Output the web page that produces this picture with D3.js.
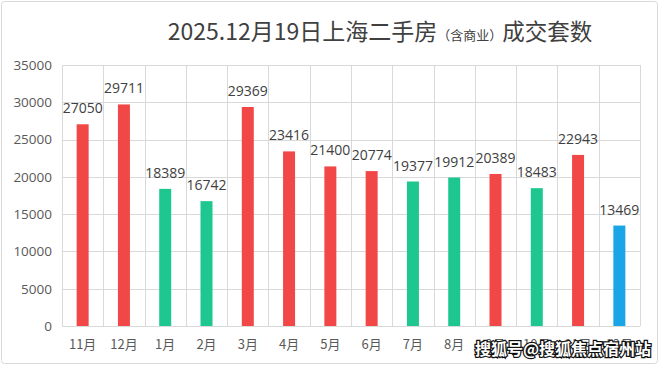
<!DOCTYPE html>
<html><head><meta charset="utf-8">
<script src="https://cdn.jsdelivr.net/npm/d3@7"></script>
<style>body{margin:0;background:#fff}svg{display:block}</style>
</head><body><svg id="c" width="660" height="366"></svg>
<script>
const categories = ["11月","12月","1月","2月","3月","4月","5月","6月","7月","8月","9月","10月","11月","12月"];
const values = [27050,29711,18389,16742,29369,23416,21400,20774,19377,19912,20389,18483,22943,13469];
const colorKeys = ["r","r","g","g","r","r","r","r","g","g","r","g","r","b"];
const yTicks = [0,5000,10000,15000,20000,25000,30000,35000];
const palette = {r:"#f24747", g:"#1dc78f", b:"#1aa6e6"};

const svg = d3.select("#c");
const W=660,H=366;
const m={l:62,r:20,t:65,b:40};
svg.append("rect").attr("x",1.5).attr("y",1.5).attr("width",W-4).attr("height",H-4).attr("rx",3)
  .attr("fill","#fff").attr("stroke","#d9d9d9");

const x=d3.scaleBand().domain(d3.range(categories.length)).range([m.l,W-m.r]).padding(0);
const y=d3.scaleLinear().domain([0,35000]).range([H-m.b,m.t]);

// grid
const g=svg.append("g");
g.selectAll(".h").data(yTicks).join("line").attr("x1",m.l).attr("x2",W-m.r)
 .attr("y1",d=>Math.round(y(d))+0.5).attr("y2",d=>Math.round(y(d))+0.5).attr("stroke","#d9d9d9");
g.selectAll(".v").data(d3.range(categories.length+1)).join("line")
 .attr("x1",i=>Math.round(m.l+i*x.bandwidth())+0.5).attr("x2",i=>Math.round(m.l+i*x.bandwidth())+0.5)
 .attr("y1",y(35000)).attr("y2",y(0)).attr("stroke","#d9d9d9");

// y axis labels
const yAxis=d3.axisLeft(y).tickValues(yTicks).tickFormat(d3.format("d")).tickSize(0).tickPadding(10);
const ya=svg.append("g").attr("transform",`translate(${m.l},0)`).call(yAxis);
ya.select(".domain").remove();
ya.selectAll("text").attr("font-family","Open Sans, Noto Sans").attr("font-size",13.5).attr("fill","#595959");

// x axis labels
const xAxis=d3.axisBottom(x).tickFormat(i=>categories[i]).tickSize(0).tickPadding(14);
const xa=svg.append("g").attr("transform",`translate(0,${H-m.b})`).call(xAxis);
xa.select(".domain").remove();
xa.selectAll("text").attr("font-family","Noto Sans CJK SC").attr("font-size",13).attr("fill","#595959");

// bars
const bw=12;
svg.selectAll(".bar").data(values).join("rect")
 .attr("x",(d,i)=>x(i)+x.bandwidth()/2-bw/2).attr("width",bw)
 .attr("y",d=>y(d)).attr("height",d=>y(0)-y(d)).attr("fill",(d,i)=>palette[colorKeys[i]]);
svg.selectAll(".lab").data(values).join("text")
 .attr("x",(d,i)=>x(i)+x.bandwidth()/2).attr("y",d=>y(d)-11).attr("text-anchor","middle")
 .attr("font-family","Open Sans, Noto Sans").attr("font-size",14).attr("fill","#404040").text(d=>d);

// title
const t=svg.append("text").attr("x",380).attr("y",40).attr("text-anchor","middle")
 .attr("font-family","Noto Sans CJK SC").attr("fill","#404040");
t.append("tspan").attr("font-size",23).text("2025.12月19日上海二手房");
t.append("tspan").attr("font-size",13).text("（含商业）");
t.append("tspan").attr("font-size",22.5).text("成交套数");

// bottom watermark
svg.append("text").attr("x",563).attr("y",355).attr("text-anchor","middle")
 .attr("font-family","Noto Sans CJK SC").attr("font-weight","bold").attr("font-size",16)
 .attr("fill","#fff").attr("stroke","#111").attr("stroke-width",2.5).attr("paint-order","stroke")
 .text("搜狐号@搜狐焦点宿州站");
</script></body></html>
